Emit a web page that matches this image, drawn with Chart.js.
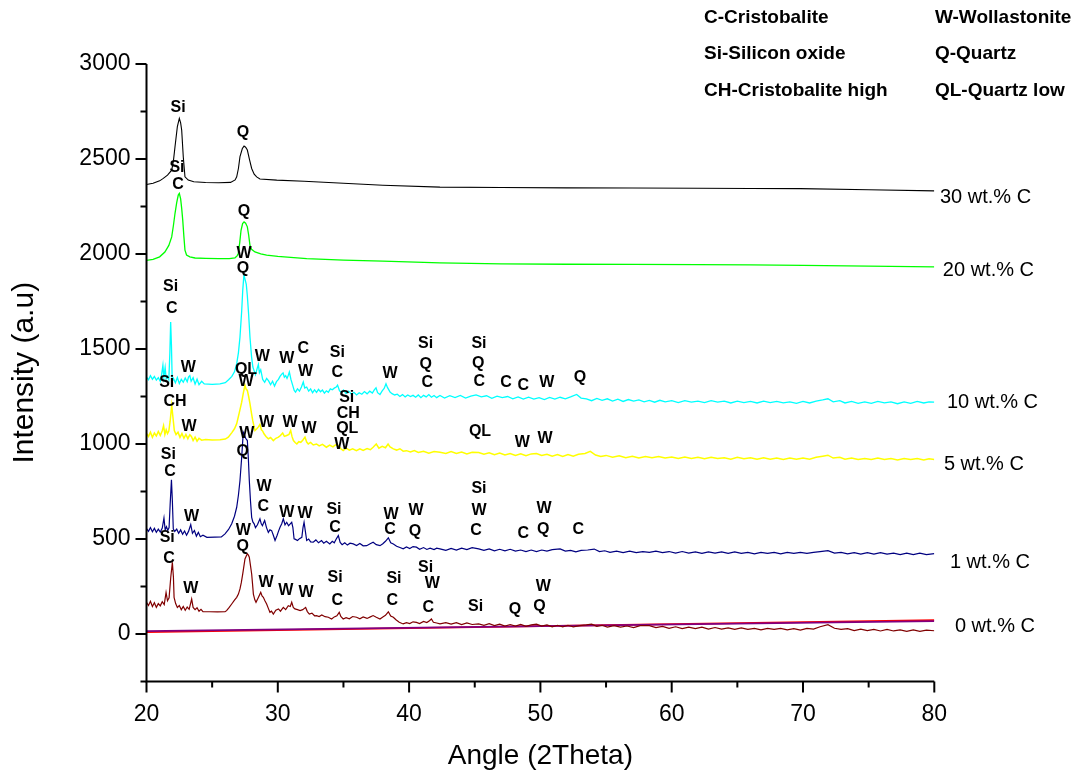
<!DOCTYPE html>
<html>
<head>
<meta charset="utf-8">
<script src="https://cdn.jsdelivr.net/npm/chart.js@4.4.1/dist/chart.umd.min.js"></script>
<style>
  html, body { margin: 0; padding: 0; background: #fff; }
  #xrd { display: block; }
</style>
</head>
<body>
<canvas id="xrd" width="1080" height="775"></canvas>
<script>
// XRD patterns, offset stack: [angle 2θ, intensity]
const wt30 = [[20,2366],[20.5,2372],[21.0,2385],[21.28,2398],[21.6,2415],[21.92,2441],[22.05,2490],[22.17,2564],[22.35,2670],[22.5,2714],[22.6,2690],[22.68,2652],[22.8,2512],[22.93,2406],[23.18,2389],[23.6,2380],[24.5,2376],[25.5,2375],[26.4,2377],[26.75,2390],[26.87,2406],[27.0,2450],[27.12,2512],[27.3,2555],[27.43,2568],[27.55,2562],[27.68,2547],[27.85,2495],[28.01,2450],[28.2,2420],[28.39,2406],[28.64,2395],[29.92,2389],[32,2383],[35,2372],[38,2362],[42.35,2352],[47,2350],[52,2348],[57,2347],[62,2346],[66,2345],[69.8,2344],[75,2338],[80,2332]];

const wt20 = [[20,1967],[20.5,1972],[21.0,1985],[21.4,2010],[21.7,2045],[21.92,2090],[22.05,2150],[22.17,2213],[22.3,2270],[22.42,2310],[22.5,2319],[22.6,2290],[22.68,2240],[22.76,2178],[22.85,2090],[22.93,2020],[23.05,1995],[23.3,1985],[23.7,1979],[24.5,1977],[25.5,1976],[26.3,1976],[26.74,1980],[26.9,1990],[26.99,2003],[27.1,2060],[27.2,2125],[27.32,2160],[27.43,2169],[27.55,2162],[27.68,2143],[27.78,2100],[27.88,2046],[28.0,2025],[28.26,2011],[28.7,2001],[29.15,1994],[30,1988],[32.2,1976],[35,1968],[38,1962],[42.35,1953],[47,1948],[52,1946],[57,1945],[62,1944],[66,1943],[70,1940],[75,1936],[80,1932]];

const wt10 = [[20.0,1352],[20.15,1338],[20.3,1360],[20.45,1341],[20.6,1355],[20.75,1336],[20.9,1349],[21.05,1330],[21.15,1365],[21.25,1414],[21.32,1350],[21.42,1402],[21.5,1342],[21.6,1355],[21.7,1338],[21.78,1480],[21.84,1642],[21.9,1520],[21.96,1330],[22.05,1345],[22.2,1322],[22.35,1350],[22.5,1318],[22.65,1340],[22.8,1325],[22.95,1348],[23.1,1328],[23.2,1352],[23.3,1360],[23.4,1330],[23.55,1349],[23.7,1315],[23.85,1341],[24.0,1312],[24.2,1330],[24.4,1316],[25.0,1314],[25.6,1316],[26.0,1323],[26.25,1338],[26.5,1356],[26.7,1380],[26.87,1423],[27.0,1480],[27.12,1563],[27.25,1700],[27.33,1809],[27.42,1890],[27.5,1868],[27.6,1840],[27.68,1780],[27.78,1680],[27.88,1563],[28.0,1460],[28.1,1405],[28.2,1385],[28.3,1365],[28.42,1395],[28.52,1419],[28.6,1375],[28.7,1390],[28.85,1340],[29.0,1325],[29.15,1345],[29.3,1332],[29.45,1312],[29.6,1330],[29.75,1305],[29.9,1328],[30.05,1340],[30.17,1356],[30.3,1368],[30.4,1374],[30.5,1352],[30.6,1360],[30.7,1345],[30.8,1362],[30.88,1379],[31.0,1340],[31.13,1310],[31.25,1282],[31.35,1273],[31.5,1290],[31.65,1278],[31.8,1300],[31.94,1326],[32.05,1295],[32.2,1300],[32.35,1278],[32.5,1290],[32.65,1270],[32.8,1285],[32.95,1272],[33.1,1288],[33.25,1275],[33.4,1284],[33.55,1268],[33.7,1280],[33.85,1272],[34.0,1290],[34.15,1285],[34.3,1294],[34.45,1300],[34.55,1310],[34.7,1280],[34.86,1272],[35.0,1284],[35.2,1266],[35.4,1278],[35.6,1262],[35.8,1272],[36.0,1258],[36.2,1270],[36.4,1262],[36.6,1276],[36.8,1264],[37.0,1278],[37.2,1268],[37.35,1285],[37.48,1296],[37.6,1270],[37.78,1260],[37.95,1280],[38.1,1292],[38.24,1317],[38.35,1298],[38.55,1273],[38.7,1265],[38.9,1258],[39.1,1262],[39.3,1250],[39.5,1260],[39.7,1248],[39.9,1258],[40.1,1250],[40.3,1256],[40.5,1246],[40.7,1258],[40.9,1244],[41.1,1256],[41.3,1248],[41.5,1260],[41.7,1246],[41.9,1255],[42.1,1244],[42.35,1255],[42.7,1242],[43.1,1254],[43.5,1244],[43.9,1256],[44.3,1242],[44.7,1252],[45.1,1258],[45.5,1248],[45.9,1254],[46.3,1240],[46.7,1252],[47.1,1244],[47.5,1250],[47.9,1238],[48.3,1248],[48.7,1236],[49.1,1246],[49.5,1236],[49.9,1244],[50.3,1234],[50.7,1245],[51.1,1236],[51.5,1246],[51.9,1238],[52.3,1248],[52.76,1261],[53.1,1242],[53.5,1238],[53.9,1228],[54.3,1240],[54.7,1230],[55.1,1238],[55.5,1226],[55.9,1236],[56.3,1224],[56.7,1234],[57.1,1226],[57.5,1232],[57.9,1222],[58.3,1229],[58.7,1220],[59.1,1230],[59.5,1222],[60.0,1228],[60.5,1218],[61.0,1228],[61.5,1220],[62.0,1226],[62.5,1218],[63.0,1228],[63.5,1220],[64.0,1226],[64.5,1216],[65.0,1226],[65.5,1218],[66.0,1224],[66.5,1216],[67.0,1226],[67.5,1218],[68.0,1224],[68.5,1216],[69.0,1222],[69.5,1214],[70.0,1224],[70.5,1216],[71.0,1226],[71.5,1232],[71.9,1238],[72.3,1222],[72.8,1228],[73.2,1216],[73.7,1224],[74.2,1214],[74.7,1222],[75.2,1214],[75.7,1224],[76.2,1216],[76.7,1222],[77.2,1212],[77.7,1222],[78.2,1214],[78.7,1224],[79.2,1216],[79.6,1222],[80.0,1220]];

const wt5 = [[20.0,1055],[20.15,1040],[20.3,1062],[20.45,1035],[20.6,1058],[20.75,1042],[20.9,1066],[21.05,1045],[21.2,1070],[21.3,1096],[21.4,1050],[21.5,1075],[21.6,1055],[21.7,1068],[21.8,1120],[21.92,1203],[22.0,1150],[22.12,1071],[22.25,1050],[22.4,1062],[22.55,1035],[22.7,1055],[22.85,1030],[23.0,1050],[23.15,1028],[23.3,1049],[23.42,1040],[23.55,1018],[23.7,1036],[23.85,1015],[24.0,1030],[24.2,1020],[24.5,1024],[25.0,1021],[25.6,1022],[26.0,1026],[26.23,1036],[26.5,1060],[26.7,1080],[26.87,1107],[27.05,1160],[27.25,1220],[27.38,1270],[27.5,1309],[27.58,1290],[27.68,1282],[27.78,1250],[27.88,1212],[28.0,1160],[28.09,1124],[28.18,1095],[28.26,1071],[28.4,1080],[28.52,1090],[28.64,1103],[28.75,1075],[28.85,1068],[28.95,1054],[29.1,1040],[29.28,1027],[29.45,1034],[29.66,1018],[29.85,1030],[30.05,1036],[30.2,1045],[30.37,1058],[30.5,1040],[30.68,1045],[30.85,1050],[30.98,1071],[31.08,1040],[31.19,1018],[31.32,1008],[31.45,1000],[31.6,1012],[31.75,1009],[31.9,1020],[32.07,1036],[32.2,1010],[32.32,1000],[32.5,1008],[32.7,995],[32.95,1000],[33.15,990],[33.4,998],[33.7,983],[33.95,994],[34.2,985],[34.4,996],[34.6,991],[34.8,975],[34.98,965],[35.2,978],[35.45,968],[35.7,975],[35.99,965],[36.25,975],[36.5,966],[36.8,976],[37.05,970],[37.26,983],[37.5,1000],[37.7,978],[37.95,988],[38.2,980],[38.4,1000],[38.55,985],[38.8,974],[39.05,968],[39.3,975],[39.55,962],[39.8,965],[40.1,958],[40.4,966],[40.7,956],[41.1,962],[41.5,952],[41.9,960],[42.35,956],[42.8,950],[43.2,960],[43.6,950],[44.0,958],[44.4,948],[44.8,956],[45.3,955],[45.7,946],[46.1,954],[46.5,944],[46.9,952],[47.3,942],[47.7,950],[48.1,940],[48.5,948],[48.9,938],[49.3,948],[49.7,950],[50.1,940],[50.5,946],[50.9,936],[51.3,944],[51.7,934],[52.1,944],[52.5,936],[52.9,946],[53.4,950],[53.8,961],[54.2,942],[54.6,934],[55.0,940],[55.5,930],[56.0,938],[56.5,928],[57.0,936],[57.5,926],[58.0,934],[58.5,928],[59.0,934],[59.5,926],[60.0,932],[60.5,924],[61.0,932],[61.5,924],[62.0,930],[62.5,922],[63.0,930],[63.5,924],[64.0,928],[64.5,920],[65.0,930],[65.5,922],[66.0,928],[66.5,920],[67.0,928],[67.5,920],[68.0,926],[68.5,918],[69.0,926],[69.5,920],[70.0,926],[70.5,920],[71.0,930],[71.5,936],[71.9,941],[72.3,926],[72.8,930],[73.2,920],[73.7,926],[74.2,918],[74.7,924],[75.2,918],[75.7,926],[76.2,918],[76.7,924],[77.2,916],[77.7,924],[78.2,918],[78.7,924],[79.2,916],[79.6,922],[80.0,918]];

const wt1 = [[20.0,555],[20.15,540],[20.3,560],[20.45,538],[20.6,556],[20.75,535],[20.9,552],[21.05,537],[21.2,558],[21.33,611],[21.42,548],[21.52,565],[21.62,545],[21.72,560],[21.8,680],[21.9,812],[21.97,700],[22.04,553],[22.15,540],[22.3,552],[22.45,530],[22.6,548],[22.75,525],[22.9,542],[23.05,520],[23.2,540],[23.37,576],[23.5,530],[23.65,545],[23.8,515],[23.95,535],[24.1,512],[24.3,520],[24.6,509],[25.2,510],[25.7,511],[25.98,527],[26.25,550],[26.49,580],[26.7,620],[26.87,667],[27.0,730],[27.12,808],[27.25,930],[27.37,1062],[27.45,1050],[27.55,1030],[27.68,1018],[27.76,920],[27.83,808],[27.92,700],[28.01,614],[28.1,590],[28.2,580],[28.3,560],[28.45,575],[28.64,606],[28.74,580],[28.83,570],[28.92,585],[29.0,597],[29.14,560],[29.28,535],[29.4,548],[29.53,544],[29.66,520],[29.79,492],[29.95,520],[30.05,540],[30.17,562],[30.3,580],[30.42,606],[30.55,575],[30.68,588],[30.82,570],[30.95,580],[31.06,588],[31.15,560],[31.24,501],[31.35,498],[31.5,492],[31.65,502],[31.83,509],[31.92,560],[32.0,588],[32.1,540],[32.2,492],[32.35,500],[32.5,485],[32.7,483],[32.9,495],[33.1,480],[33.33,492],[33.5,478],[33.7,488],[33.96,474],[34.15,488],[34.3,480],[34.45,500],[34.61,518],[34.75,482],[34.9,470],[35.1,480],[35.3,468],[35.5,478],[35.75,474],[36.0,466],[36.25,476],[36.5,464],[36.77,465],[37.0,474],[37.26,483],[37.5,470],[37.78,465],[38.0,475],[38.2,488],[38.42,506],[38.6,480],[38.8,474],[39.05,462],[39.3,455],[39.55,448],[39.8,458],[40.05,450],[40.3,460],[40.56,457],[40.8,446],[41.1,455],[41.35,445],[41.6,452],[41.9,444],[42.1,452],[42.35,448],[42.8,440],[43.2,450],[43.6,442],[44.0,452],[44.4,444],[44.8,454],[45.3,448],[45.7,440],[46.1,448],[46.5,438],[46.9,446],[47.3,438],[47.7,446],[48.1,436],[48.5,442],[48.9,434],[49.3,442],[49.7,434],[50.1,442],[50.5,436],[50.9,444],[51.5,448],[51.9,436],[52.3,440],[52.7,432],[53.1,440],[53.6,442],[54.1,447],[54.5,434],[54.9,438],[55.3,430],[55.8,436],[56.3,428],[56.8,436],[57.3,428],[57.8,434],[58.3,430],[58.8,436],[59.3,428],[59.8,434],[60.3,426],[60.8,434],[61.3,426],[61.8,432],[62.3,424],[62.8,432],[63.3,426],[63.8,432],[64.3,424],[64.8,432],[65.3,424],[65.8,430],[66.3,422],[66.8,430],[67.3,424],[67.8,430],[68.3,422],[68.8,430],[69.3,424],[69.8,430],[70.3,424],[70.8,430],[71.3,434],[71.9,439],[72.4,426],[72.9,430],[73.4,422],[73.9,428],[74.4,420],[74.9,428],[75.4,420],[75.9,428],[76.4,420],[76.9,426],[77.4,418],[77.9,426],[78.4,418],[78.9,426],[79.4,418],[80.0,423]];

const wt0 = [[20.0,167],[20.15,150],[20.3,172],[20.45,145],[20.6,165],[20.75,140],[20.9,160],[21.05,148],[21.2,170],[21.35,155],[21.49,219],[21.6,175],[21.72,190],[21.85,300],[21.97,377],[22.05,300],[22.1,193],[22.22,160],[22.35,140],[22.5,150],[22.65,128],[22.8,145],[22.95,125],[23.1,142],[23.25,130],[23.44,184],[23.55,140],[23.7,128],[23.85,138],[24.0,120],[24.15,130],[24.3,118],[24.8,117],[25.4,116],[25.98,117],[26.1,123],[26.3,140],[26.49,158],[26.7,178],[26.87,193],[27.0,210],[27.12,237],[27.22,270],[27.33,316],[27.5,395],[27.6,410],[27.68,422],[27.76,415],[27.83,404],[27.92,360],[28.01,316],[28.08,260],[28.14,210],[28.25,180],[28.34,167],[28.5,190],[28.7,219],[28.8,200],[28.9,193],[29.02,175],[29.15,158],[29.28,135],[29.4,114],[29.52,120],[29.66,105],[29.85,125],[30.05,132],[30.2,120],[30.42,140],[30.6,128],[30.8,149],[30.95,145],[31.06,167],[31.18,140],[31.3,132],[31.5,128],[31.7,123],[31.9,128],[32.12,140],[32.25,118],[32.4,105],[32.6,110],[32.8,96],[32.95,97],[33.15,92],[33.35,100],[33.6,91],[33.85,88],[34.1,79],[34.3,90],[34.5,96],[34.68,114],[34.8,92],[34.98,79],[35.2,86],[35.45,80],[35.7,92],[36.0,88],[36.25,80],[36.5,90],[36.8,82],[37.05,90],[37.26,97],[37.5,88],[37.78,79],[38.0,90],[38.2,98],[38.42,117],[38.6,95],[38.8,88],[39.0,75],[39.25,62],[39.55,53],[39.8,60],[40.05,55],[40.3,64],[40.56,61],[40.8,55],[41.1,66],[41.35,60],[41.55,70],[41.7,79],[41.85,62],[42.1,58],[42.35,53],[42.8,60],[43.2,52],[43.6,60],[44.0,50],[44.4,58],[44.8,50],[45.3,53],[45.7,46],[46.1,54],[46.5,44],[46.9,52],[47.3,42],[47.7,50],[48.1,42],[48.5,50],[48.9,40],[49.3,48],[49.7,52],[50.1,42],[50.5,48],[50.9,38],[51.3,46],[51.7,38],[52.1,46],[52.5,38],[53.0,44],[53.5,48],[53.9,52],[54.3,40],[54.7,46],[55.1,36],[55.6,44],[56.1,36],[56.6,42],[57.1,34],[57.6,44],[58.3,44],[58.8,34],[59.3,40],[59.8,30],[60.3,38],[60.8,28],[61.3,36],[61.8,28],[62.3,36],[62.8,26],[63.3,34],[63.8,26],[64.3,32],[64.8,24],[65.3,32],[65.8,24],[66.3,30],[66.8,22],[67.3,30],[67.8,24],[68.3,30],[68.8,22],[69.3,28],[69.8,20],[70.3,30],[70.8,26],[71.3,38],[71.9,49],[72.4,30],[72.9,24],[73.4,28],[73.9,18],[74.4,26],[74.9,18],[75.4,24],[75.9,16],[76.4,24],[76.9,16],[77.4,22],[77.9,14],[78.4,22],[78.9,14],[79.4,20],[80.0,17]];

// straight reference lines at the bottom
const baseRed = [[20,10],[80,73]];
const basePurple = [[20,15],[80,68]];

// tick labels
const xTickValues = [20, 30, 40, 50, 60, 70, 80];
const yTickValues = [0, 500, 1000, 1500, 2000, 2500, 3000];

// phase tags per pattern: [angle, intensity, text]
const tags30 = [[22.40,2768,'Si'],[27.35,2637,'Q']];
const tags20 = [[22.32,2457,'Si'],[22.40,2363,'C'],[27.43,2225,'Q']];
const tags10 = [[27.43,2004,'W'],[27.35,1925,'Q'],[21.84,1827,'Si'],[21.92,1713,'C'],[23.18,1402,'W'],[28.82,1461,'W'],[30.68,1449,'W'],[31.94,1502,'C'],[32.12,1379,'W'],[34.53,1479,'Si'],[34.53,1375,'C'],[38.55,1370,'W'],[41.26,1531,'Si'],[41.26,1418,'Q'],[41.39,1323,'C'],[45.32,1531,'Si'],[45.27,1423,'Q'],[45.35,1326,'C'],[47.38,1321,'C'],[48.7,1309,'C'],[50.48,1321,'W'],[53.02,1349,'Q']];
const tags5 = [[21.54,1323,'Si'],[22.17,1221,'CH'],[27.58,1391,'QL'],[27.58,1326,'W'],[23.24,1094,'W'],[29.15,1115,'W'],[30.93,1115,'W'],[32.38,1080,'W'],[35.25,1244,'Si'],[35.37,1159,'CH'],[35.29,1080,'QL'],[34.87,998,'W'],[45.4,1066,'QL'],[48.62,1010,'W'],[50.35,1028,'W']];
const tags1 = [[27.63,1054,'W'],[27.33,962,'Q'],[21.66,945,'Si'],[21.79,857,'C'],[23.44,618,'W'],[28.95,776,'W'],[28.9,671,'C'],[30.68,641,'W'],[32.07,636,'W'],[34.28,653,'Si'],[34.36,562,'C'],[38.62,629,'W'],[38.55,548,'C'],[40.53,650,'W'],[40.45,541,'Q'],[45.32,764,'Si'],[45.32,650,'W'],[45.09,544,'C'],[48.7,527,'C'],[50.27,659,'W'],[50.22,548,'Q'],[52.89,548,'C']];
const tags0 = [[27.37,544,'W'],[27.33,460,'Q'],[21.58,506,'Si'],[21.71,395,'C'],[23.37,237,'W'],[29.1,272,'W'],[30.6,228,'W'],[32.15,219,'W'],[34.36,298,'Si'],[34.53,175,'C'],[38.85,290,'Si'],[38.72,175,'C'],[41.26,347,'Si'],[41.77,264,'W'],[41.46,137,'C'],[45.07,144,'Si'],[48.07,126,'Q'],[50.22,249,'W'],[49.92,144,'Q']];

// curve names at the right end: [angle, intensity, text]
const seriesNames = [[80.43,2300,'30 wt.% C'],[80.65,1915,'20 wt.% C'],[80.96,1219,'10 wt.% C'],[80.73,892,'5 wt.% C'],[81.19,376,'1 wt.% C'],[81.57,38,'0 wt.% C']];

// phase key, top right: [angle, intensity, text]
const phaseKey = [[62.46,3243,'C-Cristobalite'],[80.05,3243,'W-Wollastonite'],[62.46,3053,'Si-Silicon oxide'],[80.05,3053,'Q-Quartz'],[62.46,2858,'CH-Cristobalite high'],[80.05,2858,'QL-Quartz low']];

const FONT = '"Liberation Sans", Arial, sans-serif';

const decor = {
  id: 'decor',
  afterDraw(chart) {
    const { ctx } = chart;
    const xs = chart.scales.x, ys = chart.scales.y;
    const x0 = xs.getPixelForValue(20), x1 = xs.getPixelForValue(80);
    const yb = ys.getPixelForValue(-250), yt = ys.getPixelForValue(3000);
    ctx.save();
    ctx.strokeStyle = '#000';
    ctx.lineWidth = 2;
    ctx.beginPath();
    ctx.moveTo(x0, yt);
    ctx.lineTo(x0, yb);
    ctx.lineTo(x1, yb);
    ctx.stroke();
    ctx.beginPath();
    for (let v = 20; v <= 80; v += 5) {
      const px = xs.getPixelForValue(v);
      ctx.moveTo(px, yb);
      ctx.lineTo(px, yb + (v % 10 === 0 ? 11 : 6));
    }
    for (let v = -250; v <= 3000; v += 250) {
      const py = ys.getPixelForValue(v);
      ctx.moveTo(x0, py);
      ctx.lineTo(x0 - (v % 500 === 0 ? 11 : 6), py);
    }
    ctx.stroke();

    // phase tags
    ctx.fillStyle = '#000';
    ctx.font = 'bold 16px ' + FONT;
    ctx.textAlign = 'center';
    ctx.textBaseline = 'middle';
    [tags30, tags20, tags10, tags5, tags1, tags0].forEach(list => {
      list.forEach(([a, i, t]) => ctx.fillText(t, xs.getPixelForValue(a), ys.getPixelForValue(i)));
    });

    // curve names
    ctx.font = '20px ' + FONT;
    ctx.textAlign = 'left';
    seriesNames.forEach(([a, i, t]) => ctx.fillText(t, xs.getPixelForValue(a), ys.getPixelForValue(i)));

    // phase key
    ctx.font = 'bold 19px ' + FONT;
    phaseKey.forEach(([a, i, t]) => ctx.fillText(t, xs.getPixelForValue(a), ys.getPixelForValue(i)));
    ctx.restore();
  }
};

function line(data, color, width) {
  return {
    data,
    borderColor: color,
    backgroundColor: color,
    borderWidth: width,
    pointRadius: 0,
    tension: 0,
    fill: false
  };
}

new Chart(document.getElementById('xrd'), {
  type: 'line',
  data: {
    datasets: [
      line(wt30, '#000000', 1.1),
      line(wt20, '#00ff00', 1.3),
      line(wt10, '#00ffff', 1.3),
      line(wt5, '#ffff00', 1.5),
      line(wt1, '#000080', 1.2),
      line(wt0, '#800000', 1.2),
      line(basePurple, '#800080', 1.6),
      line(baseRed, '#ff0000', 1.6)
    ]
  },
  options: {
    responsive: false,
    animation: false,
    layout: { padding: { top: 64, right: 145.7, left: 0, bottom: 0 } },
    plugins: { legend: { display: false }, tooltip: { enabled: false } },
    scales: {
      x: {
        type: 'linear',
        min: 20,
        max: 80,
        grid: { display: false, drawTicks: false },
        border: { display: false },
        afterBuildTicks(scale) { scale.ticks = xTickValues.map(v => ({ value: v })); },
        ticks: { padding: 19, color: '#000', font: { family: FONT, size: 23 }, callback: v => String(v) },
        title: { display: true, text: 'Angle (2Theta)', color: '#000', font: { family: FONT, size: 28 }, padding: { top: 0, bottom: 2 } },
        afterFit(scale) { scale.height = 93.5; }
      },
      y: {
        type: 'linear',
        min: -250,
        max: 3000,
        grid: { display: false, drawTicks: false },
        border: { display: false },
        afterBuildTicks(scale) { scale.ticks = yTickValues.map(v => ({ value: v })); },
        ticks: { padding: 16, color: '#000', font: { family: FONT, size: 23 }, callback: v => String(v) },
        title: { display: true, text: 'Intensity (a.u)', color: '#000', font: { family: FONT, size: 30 }, padding: { top: 7, bottom: 0 } },
        afterFit(scale) { scale.width = 146.5; }
      }
    }
  },
  plugins: [decor]
});
</script>
</body>
</html>
